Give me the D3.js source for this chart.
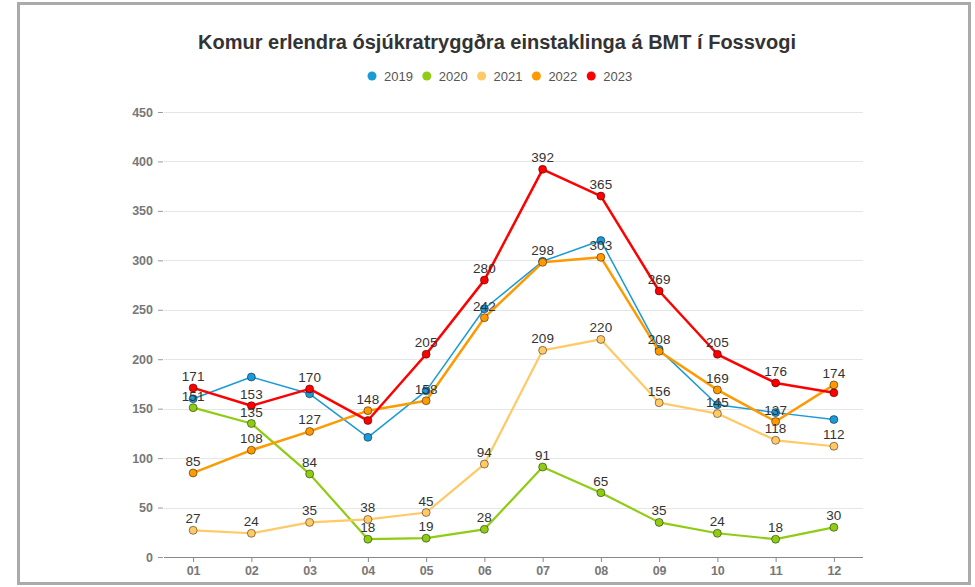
<!DOCTYPE html>
<html><head><meta charset="utf-8">
<script src="https://cdn.jsdelivr.net/npm/d3@7"></script>
<style>html,body{margin:0;padding:0;background:#fff;}svg{display:block;font-family:"Liberation Sans",Arial,sans-serif;}</style>
</head><body>
<svg id="c" width="975" height="587"></svg>
<script>
const title = "Komur erlendra ósjúkratryggðra einstaklinga á BMT í Fossvogi";
const months = ["01","02","03","04","05","06","07","08","09","10","11","12"];
const seriesNames = ["2019","2020","2021","2022","2023"];
const seriesColors = ["#1a9ad6","#8fcc14","#ffc966","#ff9900","#ff0000"];
const lineWidths = [1.5,2.2,2.2,2.5,2.5];
const v2019 = [160,182,165,121,168,251,299,320,210,154,146,139];
const v2020 = [151,135,84,18,19,28,91,65,35,24,18,30];
const v2021 = [27,24,35,38,45,94,209,220,156,145,118,112];
const v2022 = [85,108,127,148,158,242,298,303,208,169,137,174];
const v2023 = [171,153,170,138,205,280,392,365,269,205,176,166];
const showLabels2019 = [0,0,0,0,0,0,0,0,0,0,0,0];
const showLabels2020 = [1,1,1,1,1,1,1,1,1,1,1,1];
const showLabels2021 = [1,1,1,1,1,1,1,1,1,1,1,1];
const showLabels2022 = [1,1,1,1,1,1,1,1,1,1,1,1];
const showLabels2023 = [1,1,1,0,1,1,1,1,1,1,1,0];
const yTicks = [0,50,100,150,200,250,300,350,400,450];

const series = [v2019,v2020,v2021,v2022,v2023];
const showL = [showLabels2019,showLabels2020,showLabels2021,showLabels2022,showLabels2023];

const svg = d3.select("#c");
svg.append("rect").attr("x",18.5).attr("y",3.5).attr("width",951).attr("height",580)
  .attr("fill","#fff").attr("stroke","#aaa").attr("stroke-width",3);

const pLeft=164, pRight=863, pTop=112, pBottom=557;
const x = d3.scalePoint().domain(months).range([pLeft,pRight]).padding(0.5);
const y = d3.scaleLinear().domain([0,450]).range([pBottom,pTop]);

svg.append("text").attr("x",497).attr("y",49).attr("text-anchor","middle")
  .attr("font-size",20).attr("font-weight","bold").attr("fill","#333").text(title);

// legend
const lg = svg.append("g");
seriesNames.forEach((n,i)=>{
  const cx = 372 + i*54.8;
  lg.append("circle").attr("cx",cx).attr("cy",76).attr("r",4.5).attr("fill",seriesColors[i]);
  lg.append("text").attr("x",cx+12).attr("y",80.5).attr("font-size",13).attr("fill","#555").text(n);
});

// grid
svg.append("g").selectAll("line").data(yTicks.filter(d=>d>0)).join("line")
  .attr("x1",pLeft).attr("x2",pRight).attr("y1",d=>Math.round(y(d))+0.5).attr("y2",d=>Math.round(y(d))+0.5)
  .attr("stroke","#e6e6e6");

// y axis
const ya = svg.append("g").attr("transform",`translate(${pLeft-1},0)`)
  .call(d3.axisLeft(y).tickValues(yTicks).tickSize(5).tickPadding(5));
ya.select(".domain").remove();
ya.selectAll(".tick line").attr("stroke","#999");
ya.selectAll(".tick text").attr("font-size",12.5).attr("font-weight","bold").attr("fill","#777")
  .attr("font-family","Liberation Sans, Arial, sans-serif");

// x axis
const xa = svg.append("g").attr("transform",`translate(0,${pBottom})`)
  .call(d3.axisBottom(x).tickSize(5).tickPadding(4).tickSizeOuter(0));
xa.select(".domain").attr("d",`M${pLeft},0.5H${pRight}`).attr("stroke","#888");
xa.selectAll(".tick line").attr("stroke","#888");
xa.selectAll(".tick text").attr("font-size",12.5).attr("font-weight","bold").attr("fill","#777")
  .attr("font-family","Liberation Sans, Arial, sans-serif");

const line = d3.line().x((d,i)=>x(months[i])).y(d=>y(d));
series.forEach((s,i)=>{
  const g = svg.append("g");
  g.append("path").datum(s).attr("d",line).attr("fill","none")
    .attr("stroke",seriesColors[i]).attr("stroke-width",lineWidths[i]).attr("stroke-linejoin","round");
  g.selectAll("circle").data(s).join("circle")
    .attr("cx",(d,j)=>x(months[j])).attr("cy",d=>y(d)).attr("r",4)
    .attr("fill",seriesColors[i]).attr("stroke","#000").attr("stroke-opacity",0.45).attr("stroke-width",1);
});
series.forEach((s,i)=>{
  svg.append("g").selectAll("text").data(s.map((d,j)=>({d,j})).filter(o=>showL[i][o.j])).join("text")
    .attr("x",o=>x(months[o.j])).attr("y",o=>y(o.d)-7).attr("text-anchor","middle")
    .attr("font-size",13.5).attr("fill","#333").text(o=>o.d);
});
</script>
</body></html>
